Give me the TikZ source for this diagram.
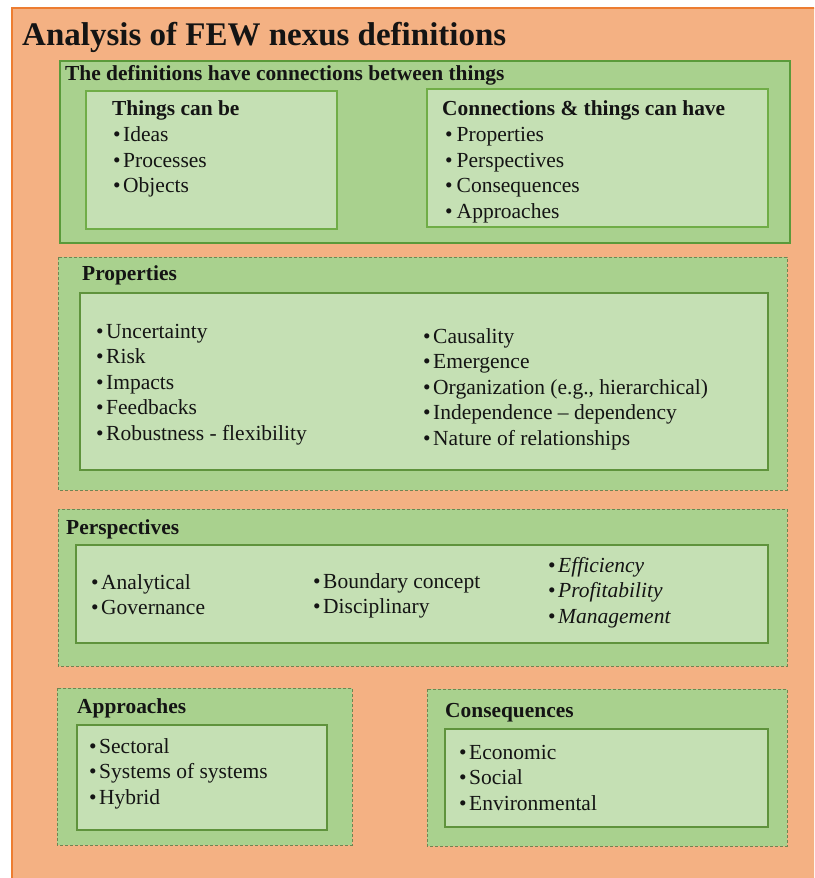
\documentclass[tikz,border=0pt]{standalone}
\usepackage{fontspec}
\setmainfont{Liberation Serif}
\definecolor{peach}{HTML}{F4B183}
\definecolor{peachline}{HTML}{ED7D31}
\definecolor{midgreen}{HTML}{A9D18E}
\definecolor{palegreen}{HTML}{C5E0B4}
\definecolor{darkframe}{HTML}{5A9A3A}
\definecolor{frame}{HTML}{70AD47}
\definecolor{dashframe}{HTML}{6E8552}
\definecolor{ink}{HTML}{141414}
\newcommand\itembullet{\textbullet\hspace{2.5pt}}
\tikzset{
  outerpanel/.style={fill=peach, draw=peachline, line width=1.2pt},
  solidgroup/.style={fill=midgreen, draw=darkframe, line width=2.6pt},
  lightcard/.style={fill=palegreen, draw=frame, line width=2.6pt},
  dashgroup/.style={fill=midgreen, draw=dashframe, line width=0.9pt, dash pattern=on 3pt off 2pt},
  thincard/.style={fill=palegreen, draw=frame!85!black, line width=1.3pt},
  heading/.style={anchor=base west, inner sep=0pt, text=ink, font=\fontsize{21.4}{25}\selectfont\bfseries},
  entry/.style={anchor=base west, inner sep=0pt, text=ink, font=\fontsize{21.5}{25}\selectfont},
}
\begin{document}
\begin{tikzpicture}[x=1pt, y=-1pt]
\useasboundingbox (0,0) rectangle (814,878);
\begin{scope}
\clip (0,0) rectangle (814,878);
\draw[outerpanel] (12,8) rectangle (840,900);
\end{scope}

\node[anchor=base west, inner sep=0pt, text=ink, font=\fontsize{33}{36}\selectfont\bfseries]
  (title) at (22,45) {Analysis of FEW nexus definitions};

% ---- connections between things ----
\draw[solidgroup] (60,61) rectangle (790,243);
\node[heading] (defs) at (65,80) {The definitions have connections between things};
\draw[lightcard] (86,91) rectangle (337,229);
\draw[lightcard] (427,89) rectangle (768,227);
\node[heading] (thingshead) at (112,115) {Things can be};
\foreach \t [count=\i] in {Ideas,Processes,Objects}
  \node[entry] (things-\i) at (113,{141.5+25.5*(\i-1)}) {\itembullet\t};
\node[heading] (connhead) at (442,115) {Connections \& things can have};
\foreach \t [count=\i] in {Properties,Perspectives,Consequences,Approaches}
  \node[entry] (conn-\i) at (445,{141.5+25.5*(\i-1)}) {\textbullet\hspace{4pt}\t};

% ---- properties ----
\draw[dashgroup] (58,257) rectangle (787,490);
\node[heading] (prophead) at (82,280) {Properties};
\draw[thincard] (80,293) rectangle (768,470);
\foreach \t [count=\i] in {Uncertainty,Risk,Impacts,Feedbacks,Robustness - flexibility}
  \node[entry] (propl-\i) at (96,{338+25.5*(\i-1)}) {\itembullet\t};
\foreach \t [count=\i] in {Causality,Emergence,{Organization (e.g., hierarchical)},Independence -- dependency,Nature of relationships}
  \node[entry] (propr-\i) at (423,{343+25.5*(\i-1)}) {\itembullet\t};

% ---- perspectives ----
\draw[dashgroup] (58,509) rectangle (787,666);
\node[heading] (persphead) at (66,534) {Perspectives};
\draw[thincard] (76,545) rectangle (768,643);
\foreach \t [count=\i] in {Analytical,Governance}
  \node[entry] (perspa-\i) at (91,{589+25.5*(\i-1)}) {\itembullet\t};
\foreach \t [count=\i] in {Boundary concept,Disciplinary}
  \node[entry] (perspb-\i) at (313,{588+25.5*(\i-1)}) {\itembullet\t};
\foreach \t [count=\i] in {Efficiency,Profitability,Management}
  \node[entry] (perspc-\i) at (548,{572+25.5*(\i-1)}) {\itembullet\textit{\t}};

% ---- approaches ----
\draw[dashgroup] (57,688) rectangle (352,845);
\node[heading] (apphead) at (77,713) {Approaches};
\draw[thincard] (77,725) rectangle (327,830);
\foreach \t [count=\i] in {Sectoral,Systems of systems,Hybrid}
  \node[entry] (app-\i) at (89,{753+25.5*(\i-1)}) {\itembullet\t};

% ---- consequences ----
\draw[dashgroup] (427,689) rectangle (787,846);
\node[heading] (conshead) at (445,717) {Consequences};
\draw[thincard] (445,729) rectangle (768,827);
\foreach \t [count=\i] in {Economic,Social,Environmental}
  \node[entry] (cons-\i) at (459,{759+25.5*(\i-1)}) {\itembullet\t};
\end{tikzpicture}
\end{document}
